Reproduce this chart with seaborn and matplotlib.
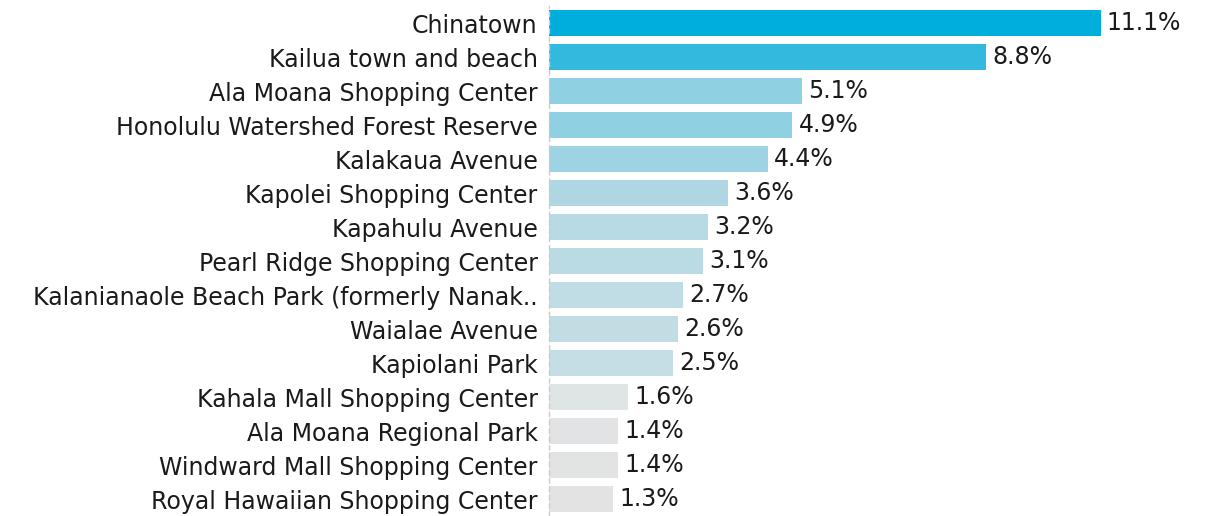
import pandas as pd
import seaborn as sns
import matplotlib.pyplot as plt

places = [
    "Chinatown",
    "Kailua town and beach",
    "Ala Moana Shopping Center",
    "Honolulu Watershed Forest Reserve",
    "Kalakaua Avenue",
    "Kapolei Shopping Center",
    "Kapahulu Avenue",
    "Pearl Ridge Shopping Center",
    "Kalanianaole Beach Park (formerly Nanak..",
    "Waialae Avenue",
    "Kapiolani Park",
    "Kahala Mall Shopping Center",
    "Ala Moana Regional Park",
    "Windward Mall Shopping Center",
    "Royal Hawaiian Shopping Center",
]
shares = [11.1, 8.8, 5.1, 4.9, 4.4, 3.6, 3.2, 3.1, 2.7, 2.6, 2.5, 1.6, 1.4, 1.4, 1.3]
bar_colors = [
    "#00aedd", "#33b8de", "#8fd0e3", "#90d0e3", "#9dd3e2", "#afd7e3",
    "#b8dae4", "#bbdbe4", "#c0dce4", "#c2dce4", "#c5dde4",
    "#dfe4e5", "#e1e3e4", "#e2e3e3", "#e3e3e3",
]

df = pd.DataFrame({"place": places, "share": shares})

sns.set_style("white")
plt.rcParams["font.family"] = ["DejaVu Sans"]

fig = plt.figure(figsize=(12.25, 5.16), dpi=100)
ax = fig.add_axes([0.448, 0.0, 0.552, 0.988])

sns.barplot(data=df, x="share", y="place", hue="place", palette=bar_colors,
            legend=False, width=0.77, ax=ax, saturation=1, linewidth=0)

for i, v in enumerate(shares):
    ax.text(v + 0.12, i, f"{v:.1f}%", va="center", ha="left", fontsize=17, color="#1a1a1a")

ax.set_xlim(0, 13.6)
ax.set_ylim(14.5, -0.5)
ax.set_xlabel("")
ax.set_ylabel("")
ax.set_xticks([])
ax.tick_params(axis="y", length=0, pad=8, labelsize=17, labelcolor="#1a1a1a")
for s in ["top", "right", "bottom"]:
    ax.spines[s].set_visible(False)
ax.spines["left"].set_color("#cccccc")
ax.spines["left"].set_linestyle((0, (3, 3)))
ax.spines["left"].set_linewidth(1)

plt.savefig("out.png", dpi=100)
